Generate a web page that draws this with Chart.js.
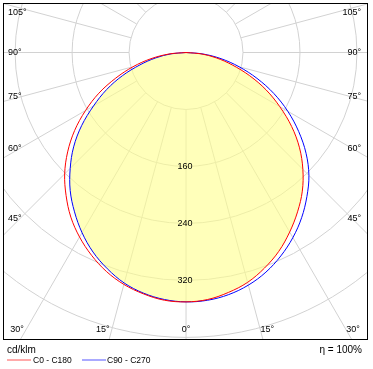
<!DOCTYPE html>
<html>
<head>
<meta charset="utf-8">
<script src="https://cdn.jsdelivr.net/npm/chart.js@4"></script>
<style>
  html, body { margin: 0; padding: 0; background: #fff; }
  #wrap { position: relative; width: 373px; height: 369px; }
  #ldc { position: absolute; left: 0; top: 0; }
  .t { position: absolute; font-family: "Liberation Sans", Arial, sans-serif; color: #000; white-space: nowrap; }
  .sample { position: absolute; height: 0; border-top: 2px solid; }
</style>
</head>
<body>
<div id="wrap">
  <canvas id="ldc" width="373" height="369"></canvas>
  <div class="t" style="left:7px; top:344px; font-size:10px; line-height:12px;">cd/klm</div>
  <div class="t" style="right:11px; top:344px; font-size:10px; line-height:12px;">η = 100%</div>
  <div class="sample" style="left:7px; top:359px; width:24px; border-color:#ffaaaa;"></div>
  <div class="t" style="left:33px; top:355px; font-size:8.5px; line-height:10px;">C0 - C180</div>
  <div class="sample" style="left:82px; top:359px; width:24px; border-color:#aaaaff;"></div>
  <div class="t" style="left:107px; top:355px; font-size:8.5px; line-height:10px;">C90 - C270</div>
</div>
<script>
// gamma angles (deg) and luminous intensity in cd/klm for each C-plane half
const gammaDeg = [0, 5, 10, 15, 20, 25, 30, 35, 40, 45, 50, 55, 60, 65, 70, 75, 80, 85, 90];
const c0   = [350, 348, 342, 334, 322, 308, 291, 273, 254, 232, 208, 181, 152, 124, 95, 67, 43, 21, 0];
const c180 = [350, 349, 344, 337, 327, 314, 299, 282, 262, 241, 217, 191, 163, 135, 105, 77, 50, 24, 0];
const c90  = [350, 349, 345, 338, 328, 315, 300, 283, 264, 244, 220, 193, 165, 136, 106, 77, 50, 24, 0];
const c270 = [350, 348, 343, 335, 323, 309, 292, 273, 253, 230, 206, 179, 150, 123, 95, 67, 43, 21, 0];

const ringValues = [80, 160, 240, 320, 400];
const ringLabels = [160, 240, 320];
const angleTicks = [0, 15, 30, 45, 60, 75, 90, 105];

// left half runs from 90 deg down to 0, right half from 0 up to 90
function curve(left, right) {
  const pts = [];
  for (let i = gammaDeg.length - 1; i >= 0; i--) {
    const g = gammaDeg[i] * Math.PI / 180;
    pts.push({x: -left[i] * Math.sin(g), y: -left[i] * Math.cos(g)});
  }
  for (let i = 1; i < gammaDeg.length; i++) {
    const g = gammaDeg[i] * Math.PI / 180;
    pts.push({x: right[i] * Math.sin(g), y: -right[i] * Math.cos(g)});
  }
  return pts;
}

const innerLeft = c180.map((v, i) => Math.min(v, c270[i]));
const innerRight = c0.map((v, i) => Math.min(v, c90[i]));

const ldcPlugin = {
  id: 'ldcGrid',
  beforeDatasetsDraw(chart) {
    const {ctx, chartArea: a, scales: {x, y}} = chart;
    const cx = x.getPixelForValue(0), cy = y.getPixelForValue(0);
    const k = x.getPixelForValue(100) - cx;
    ctx.save();
    ctx.beginPath();
    ctx.rect(a.left, a.top, a.right - a.left, a.bottom - a.top);
    ctx.clip();
    ctx.strokeStyle = '#d2d2d2';
    ctx.lineWidth = 1;
    ringValues.forEach(v => {
      ctx.beginPath();
      ctx.arc(cx, cy, v * k / 100, 0, Math.PI * 2);
      ctx.stroke();
    });
    const r0 = ringValues[0] * k / 100;
    for (let g = 0; g < 360; g += 15) {
      const rad = g * Math.PI / 180;
      ctx.beginPath();
      ctx.moveTo(cx + Math.sin(rad) * r0, cy + Math.cos(rad) * r0);
      ctx.lineTo(cx + Math.sin(rad) * 900, cy + Math.cos(rad) * 900);
      ctx.stroke();
    }
    ctx.restore();
  },
  afterDatasetsDraw(chart) {
    const {ctx, chartArea: a, scales: {x, y}} = chart;
    const cx = x.getPixelForValue(0), cy = y.getPixelForValue(0);
    ctx.save();
    ctx.fillStyle = '#000';
    ctx.font = '9px "Liberation Sans", Arial, sans-serif';
    ctx.textBaseline = 'middle';
    ctx.textAlign = 'center';
    ringLabels.forEach(v => {
      ctx.fillText(String(v), cx - 1, y.getPixelForValue(-v));
    });
    angleTicks.forEach(g => {
      const txt = g + '°';
      const rad = g * Math.PI / 180;
      const dx = cx - (a.left + 17);
      const ySide = g === 0 ? Infinity : cy + dx * Math.cos(rad) / Math.sin(rad);
      if (ySide < a.bottom - 10) {
        const yy = Math.max(ySide, a.top + 10);
        ctx.textAlign = 'left';
        ctx.fillText(txt, a.left + 5, yy);
        ctx.textAlign = 'right';
        ctx.fillText(txt, a.right - 7, yy);
      } else {
        const yb = a.bottom - 10;
        const off = (yb - cy) * Math.tan(rad);
        if (g === 0) {
          ctx.textAlign = 'center';
          ctx.fillText(txt, cx, yb);
        } else {
          ctx.textAlign = 'right';
          ctx.fillText(txt, Math.max(cx - off - 2, a.left + 20), yb);
          ctx.textAlign = 'left';
          ctx.fillText(txt, cx + off, yb);
        }
      }
    });
    ctx.strokeStyle = '#000';
    ctx.lineWidth = 1;
    ctx.strokeRect(a.left + 0.5, a.top + 0.5, a.right - a.left - 1, a.bottom - a.top - 1);
    ctx.restore();
  }
};

new Chart(document.getElementById('ldc'), {
  type: 'scatter',
  data: {
    datasets: [
      {
        label: 'C0 - C180',
        data: curve(c180, c0),
        showLine: true,
        borderColor: '#ff0000',
        borderWidth: 1,
        pointRadius: 0,
        tension: 0.35,
        fill: false,
        order: 1
      },
      {
        label: 'C90 - C270',
        data: curve(c270, c90),
        showLine: true,
        borderColor: '#0000ff',
        borderWidth: 1,
        pointRadius: 0,
        tension: 0.35,
        fill: false,
        order: 2
      },
      {
        label: 'fill',
        data: curve(innerLeft, innerRight),
        showLine: true,
        borderWidth: 0,
        borderColor: 'rgba(0,0,0,0)',
        backgroundColor: 'rgba(255,255,140,0.6)',
        pointRadius: 0,
        tension: 0.35,
        fill: 'shape',
        order: 3
      }
    ]
  },
  options: {
    responsive: false,
    animation: false,
    layout: { padding: { left: 3, top: 3, right: 5, bottom: 29 } },
    scales: {
      x: { type: 'linear', min: -257, max: 255.5, display: false },
      y: { type: 'linear', min: -403.5, max: 69.5, display: false }
    },
    plugins: {
      legend: { display: false },
      tooltip: { enabled: false }
    }
  },
  plugins: [ldcPlugin]
});
</script>
</body>
</html>
